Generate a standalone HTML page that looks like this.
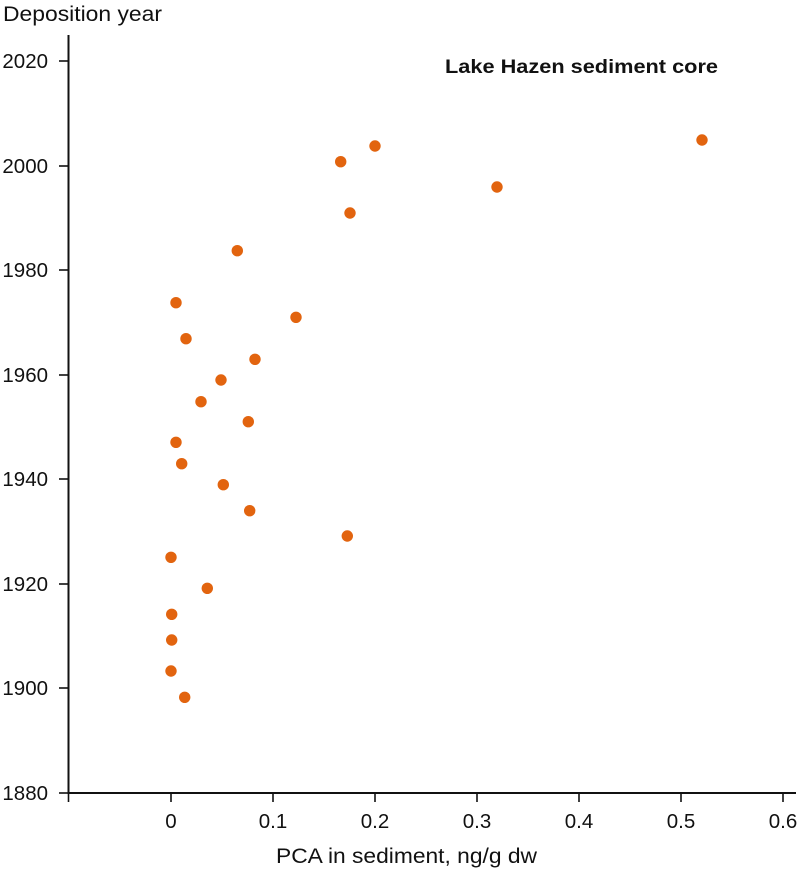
<!DOCTYPE html>
<html>
<head>
<meta charset="utf-8">
<style>
html,body{margin:0;padding:0;background:#fff;}
svg{display:block;}
text{font-family:"Liberation Sans",Arial,sans-serif;fill:#111;}
</style>
</head>
<body>
<svg width="800" height="871" viewBox="0 0 800 871" xmlns="http://www.w3.org/2000/svg">
  <!-- axes -->
  <line x1="68.5" y1="35" x2="68.5" y2="794" stroke="#111" stroke-width="2"/>
  <line x1="67.5" y1="793" x2="796" y2="793" stroke="#111" stroke-width="2"/>
  <!-- y ticks -->
  <g stroke="#111" stroke-width="1.6">
    <line x1="59" y1="61" x2="68" y2="61"/>
    <line x1="59" y1="166" x2="68" y2="166"/>
    <line x1="59" y1="270" x2="68" y2="270"/>
    <line x1="59" y1="375" x2="68" y2="375"/>
    <line x1="59" y1="479" x2="68" y2="479"/>
    <line x1="59" y1="584" x2="68" y2="584"/>
    <line x1="59" y1="688" x2="68" y2="688"/>
    <line x1="59" y1="793" x2="68" y2="793"/>
  </g>
  <!-- x ticks -->
  <g stroke="#111" stroke-width="1.6">
    <line x1="68.5" y1="793" x2="68.5" y2="802"/>
    <line x1="171" y1="793" x2="171" y2="802"/>
    <line x1="273" y1="793" x2="273" y2="802"/>
    <line x1="375" y1="793" x2="375" y2="802"/>
    <line x1="477" y1="793" x2="477" y2="802"/>
    <line x1="579" y1="793" x2="579" y2="802"/>
    <line x1="681" y1="793" x2="681" y2="802"/>
    <line x1="783" y1="793" x2="783" y2="802"/>
  </g>
  <!-- y tick labels -->
  <g font-size="20.5" text-anchor="end">
    <text x="48" y="68">2020</text>
    <text x="48" y="173">2000</text>
    <text x="48" y="277">1980</text>
    <text x="48" y="382">1960</text>
    <text x="48" y="486">1940</text>
    <text x="48" y="591">1920</text>
    <text x="48" y="695">1900</text>
    <text x="48" y="800">1880</text>
  </g>
  <!-- x tick labels -->
  <g font-size="20.5" text-anchor="middle">
    <text x="171" y="828">0</text>
    <text x="273" y="828">0.1</text>
    <text x="375" y="828">0.2</text>
    <text x="477" y="828">0.3</text>
    <text x="579" y="828">0.4</text>
    <text x="681" y="828">0.5</text>
    <text x="783" y="828">0.6</text>
  </g>
  <!-- axis titles -->
  <text x="3" y="21" font-size="21" textLength="159" lengthAdjust="spacingAndGlyphs">Deposition year</text>
  <text x="276" y="863" font-size="21" textLength="261" lengthAdjust="spacingAndGlyphs">PCA in sediment, ng/g dw</text>
  <!-- chart title -->
  <text x="445" y="73" font-size="19.5" font-weight="bold" textLength="273" lengthAdjust="spacingAndGlyphs">Lake Hazen sediment core</text>
  <!-- data points -->
  <g fill="#E2640F">
    <circle cx="702" cy="140" r="5.7"/>
    <circle cx="497" cy="187" r="5.7"/>
    <circle cx="375" cy="146" r="5.7"/>
    <circle cx="340.7" cy="161.7" r="5.7"/>
    <circle cx="350" cy="213" r="5.7"/>
    <circle cx="237.3" cy="250.7" r="5.7"/>
    <circle cx="176" cy="302.7" r="5.7"/>
    <circle cx="296" cy="317.3" r="5.7"/>
    <circle cx="186" cy="338.7" r="5.7"/>
    <circle cx="255" cy="359.3" r="5.7"/>
    <circle cx="221" cy="380" r="5.7"/>
    <circle cx="201" cy="401.7" r="5.7"/>
    <circle cx="248.3" cy="421.7" r="5.7"/>
    <circle cx="176" cy="442.3" r="5.7"/>
    <circle cx="181.7" cy="463.7" r="5.7"/>
    <circle cx="223.3" cy="484.7" r="5.7"/>
    <circle cx="249.7" cy="510.7" r="5.7"/>
    <circle cx="347.3" cy="536" r="5.7"/>
    <circle cx="171" cy="557.3" r="5.7"/>
    <circle cx="207.3" cy="588.3" r="5.7"/>
    <circle cx="171.7" cy="614.3" r="5.7"/>
    <circle cx="171.7" cy="640" r="5.7"/>
    <circle cx="171" cy="671" r="5.7"/>
    <circle cx="184.7" cy="697.3" r="5.7"/>
  </g>
</svg>
</body>
</html>
